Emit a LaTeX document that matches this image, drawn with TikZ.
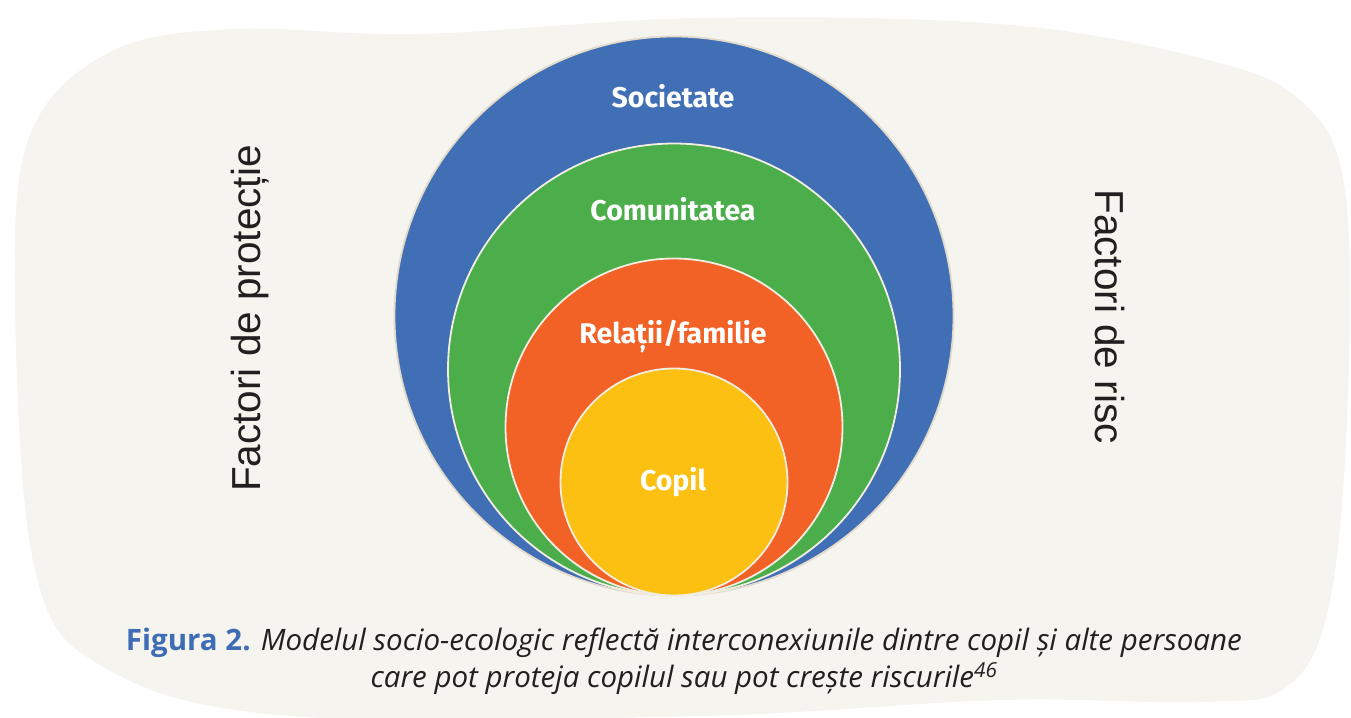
\documentclass[tikz,border=0pt]{standalone}
\usepackage{fontspec}
\setmainfont{Fira Sans}
\newfontfamily\sidefont{Liberation Sans}
\newfontfamily\capfont{Open Sans}
\definecolor{bgc}{HTML}{F5F4EE}
\definecolor{socblue}{HTML}{416FB6}
\definecolor{comgreen}{HTML}{4BAE4B}
\definecolor{relorange}{HTML}{F26125}
\definecolor{copyellow}{HTML}{FBC012}
\definecolor{outerline}{HTML}{E2DACA}
\definecolor{ringline}{HTML}{F1EDE1}
\definecolor{txtdark}{HTML}{231F20}
\definecolor{figblue}{HTML}{3F6DB5}
\begin{document}
\begin{tikzpicture}[x=1pt,y=-1pt,
  ring/.style={circle, draw=ringline, line width=1.8pt, inner sep=0pt},
  lbl/.style={text=white, font=\bfseries\fontsize{28.5}{30}\selectfont, anchor=base, inner sep=0pt},
  sidelbl/.style={text=txtdark, font=\sidefont\fontsize{40.5}{44}\selectfont, inner sep=0pt},
  captxt/.style={text=txtdark, font=\capfont\itshape\fontsize{29.5}{32}\selectfont, anchor=base, inner sep=0pt}]
\useasboundingbox (0,0) rectangle (1351,717);
\fill[bgc] plot[smooth cycle, tension=0.6] coordinates {
  (15,300) (30,135) (110,52) (233,29) (420,34) (700,18) (1000,24) (1200,58)
  (1300,100) (1345,190) (1347,420) (1328,610) (1285,688) (1200,702) (1000,700)
  (700,716) (290,716) (105,668) (35,570)};
\node[ring, draw=outerline, fill=socblue, minimum size=559pt] (soc) at (674,316) {};
\node[ring, fill=comgreen, minimum size=452pt] (com) at (674,369.5) {};
\node[ring, fill=relorange, minimum size=337pt] (rel) at (674,427) {};
\node[ring, fill=copyellow, minimum size=227pt] (cop) at (674,482) {};
\node[lbl] (tsoc) at (673,107) {Societate};
\node[lbl] (tcom) at (673,220) {Comunitatea};
\node[lbl] (trel) at (673,343.5) {Relații/familie};
\node[lbl] (tcop) at (673,490) {Copil};
\node[sidelbl, rotate=90, anchor=base] (prot) at (260,318.5) {Factori de protecție};
\node[sidelbl, rotate=-90, anchor=base] (risc) at (1095,316.5) {Factori de risc};
\node[captxt] (cap1) at (684,650) {{\upshape\bfseries\color{figblue}Figura 2.} Modelul socio-ecologic reflectă interconexiunile dintre copil și alte persoane};
\node[captxt] (cap2) at (684,687) {care pot proteja copilul sau pot crește riscurile\textsuperscript{46}};
\end{tikzpicture}
\end{document}
